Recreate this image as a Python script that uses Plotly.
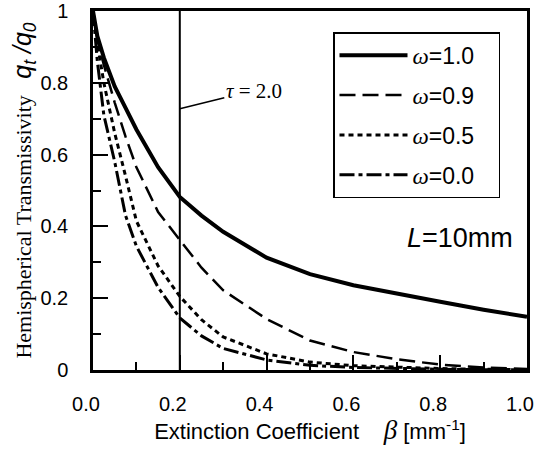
import plotly.graph_objects as go

# ---- data ----
beta = [0, 0.01, 0.025, 0.05, 0.075, 0.1, 0.15, 0.2, 0.25, 0.3, 0.4, 0.5, 0.6, 0.7, 0.8, 0.9, 1.0]

t_w10 = [1.0, 0.93, 0.87, 0.79, 0.73, 0.67, 0.565, 0.482, 0.43, 0.385, 0.313, 0.267, 0.236, 0.212, 0.19, 0.168, 0.148]
t_w09 = [1.0, 0.92, 0.85, 0.745, 0.65, 0.565, 0.44, 0.362, 0.285, 0.222, 0.142, 0.082, 0.05, 0.03, 0.015, 0.007, 0.003]
t_w05 = [1.0, 0.91, 0.80, 0.66, 0.54, 0.415, 0.29, 0.205, 0.14, 0.092, 0.045, 0.022, 0.012, 0.007, 0.004, 0.002, 0.001]
t_w00 = [1.0, 0.86, 0.71, 0.58, 0.43, 0.345, 0.23, 0.145, 0.095, 0.06, 0.028, 0.013, 0.007, 0.004, 0.002, 0.001, 0.0005]

omega_labels = ["1.0", "0.9", "0.5", "0.0"]
TAU = 2.0
L_MM = 10

x_tickvals = [0.0, 0.2, 0.4, 0.6, 0.8, 1.0]
x_ticktext = ["0.0", "0.2", "0.4", "0.6", "0.8", "1.0"]
y_tickvals = [0, 0.2, 0.4, 0.6, 0.8, 1]

SANS = "Liberation Sans, Arial, sans-serif"
SERIF = "Liberation Serif, Times New Roman, serif"

series = [t_w10, t_w09, t_w05, t_w00]
styles = [
    dict(width=4, dash="solid"),
    dict(width=2.5, dash="16px,7px"),
    dict(width=3, dash="5px,4px"),
    dict(width=3, dash="15px,4px,4px,4px"),
]

fig = go.Figure()
for i, (vals, lab, st) in enumerate(zip(series, omega_labels, styles)):
    name = (f"<span style='font-family:{SERIF}'><i>ω</i></span>={lab}"
            "&nbsp;&nbsp;&nbsp;")
    fig.add_trace(go.Scatter(
        x=beta, y=vals, mode="lines", name=name, legendgroup=f"g{i}",
        line=dict(color="black", width=st["width"], dash=st["dash"]),
    ))

fig.add_vline(x=TAU / L_MM, line=dict(color="black", width=2))

fig.add_annotation(
    x=TAU / L_MM, y=0.728, xref="x", yref="y",
    text=f"<i>τ</i> = {TAU:.1f}", showarrow=True, arrowhead=0, arrowwidth=1.5,
    arrowcolor="black", ax=74, ay=-18,
    font=dict(family=SERIF, size=21, color="black"),
)
fig.add_annotation(
    x=0.845, y=0.369, xref="x", yref="y",
    text=f"<i>L</i>={L_MM}mm", showarrow=False,
    font=dict(family=SANS, size=27, color="black"),
)

fig.update_layout(
    width=535, height=455,
    margin=dict(l=93, r=8, t=11, b=85, autoexpand=False),
    paper_bgcolor="white", plot_bgcolor="white",
    font=dict(family=SANS, color="black", size=20),
    showlegend=True,
    legend=dict(
        x=0.553, y=0.941, xanchor="left", yanchor="top",
        bgcolor="white", bordercolor="black", borderwidth=1.5,
        font=dict(family=SANS, size=23, color="black"),
        tracegroupgap=7, itemwidth=68,
    ),
)

fig.update_xaxes(
    range=[0, 1], tickvals=x_tickvals, ticktext=x_ticktext,
    ticks="inside", ticklen=15, tickwidth=1.5, tickcolor="black",
    minor=dict(ticks="inside", ticklen=8, tickwidth=1.5, dtick=0.1, tickcolor="black"),
    showline=True, linewidth=2.5, linecolor="black", mirror=True,
    showgrid=False, zeroline=False, automargin=False,
    ticklabelstandoff=14, ticklabelshift=-7,
    tickfont=dict(family=SANS, size=20),
    title=dict(
        text=("Extinction Coefficient&nbsp;&nbsp;&nbsp;&nbsp;"
              f"<span style='font-family:{SERIF};font-size:27px'><i>β</i></span>"
              " [mm<sup>-1</sup>]"),
        font=dict(family=SANS, size=22), standoff=2,
    ),
)
fig.update_yaxes(
    range=[0, 1], tickvals=y_tickvals,
    ticks="inside", ticklen=15, tickwidth=1.5, tickcolor="black",
    minor=dict(ticks="inside", ticklen=8, tickwidth=1.5, dtick=0.1, tickcolor="black"),
    showline=True, linewidth=2.5, linecolor="black", mirror=True,
    showgrid=False, zeroline=False, automargin=False,
    ticklabelstandoff=18,
    tickfont=dict(family=SANS, size=20),
    title=dict(
        text=("Hemispherical Transmissivity&nbsp;&nbsp;&nbsp;"
              f"<span style='font-family:{SANS};font-size:25px'><i>q<sub>t</sub> /q<sub>0</sub></i></span>"),
        font=dict(family=SERIF, size=22), standoff=2,
    ),
)

fig.write_html(
    "out.html",
    config={"displayModeBar": False},
    post_script="document.body.style.margin='0px';document.body.style.overflow='hidden';",
)
